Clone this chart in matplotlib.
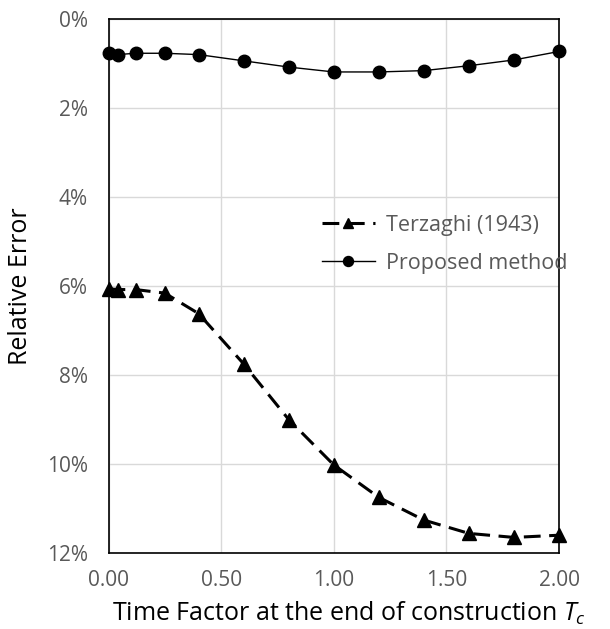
import matplotlib
matplotlib.use("Agg")
import matplotlib.pyplot as plt
from matplotlib.ticker import FuncFormatter

plt.rcParams['font.family'] = ['Open Sans', 'DejaVu Sans']
plt.rcParams['mathtext.fontset'] = 'custom'
plt.rcParams['mathtext.rm'] = 'Open Sans'
plt.rcParams['mathtext.it'] = 'Open Sans:italic'

tc = [0.0, 0.04, 0.12, 0.25, 0.40, 0.60, 0.80, 1.00, 1.20, 1.40, 1.60, 1.80, 2.00]
terzaghi = [6.06, 6.08, 6.08, 6.16, 6.62, 7.75, 9.00, 10.02, 10.75, 11.26, 11.56, 11.65, 11.60]
proposed = [0.77, 0.80, 0.77, 0.77, 0.80, 0.94, 1.08, 1.19, 1.19, 1.16, 1.05, 0.92, 0.73]
x_ticks = [0.0, 0.5, 1.0, 1.5, 2.0]
y_ticks = [0, 2, 4, 6, 8, 10, 12]

fig = plt.figure(figsize=(6.10, 6.29), dpi=100)
ax = fig.add_axes([108.5/610, 1 - 553/629, (559-108.5)/610, (553-19)/629])

ax.plot(tc, terzaghi, color='black', lw=2.2, ls=(0, (5.5, 2.8)), marker='^', ms=9.5,
        label='Terzaghi (1943)', clip_on=False, zorder=3)
ax.plot(tc, proposed, color='black', lw=1, ls='-', marker='o', ms=9,
        label='Proposed method', clip_on=False, zorder=3)

ax.set_xlim(0, 2)
ax.set_ylim(12, 0)
ax.set_xticks(x_ticks)
ax.set_yticks(y_ticks)
ax.xaxis.set_major_formatter(FuncFormatter(lambda v, p: f"{v:.2f}"))
ax.yaxis.set_major_formatter(FuncFormatter(lambda v, p: f"{int(v)}%"))
ax.grid(True, color='#d9d9d9', lw=1)
ax.set_axisbelow(True)
ax.tick_params(length=0, labelsize=15, labelcolor='#595959')
ax.tick_params(axis='x', pad=12)
ax.tick_params(axis='y', pad=15)
for s in ax.spines.values():
    s.set_color('black')
    s.set_linewidth(1.2)

ax.set_xlabel('Time Factor at the end of construction $T_c$', fontsize=18, color='black')
ax.set_ylabel('Relative Error', fontsize=18, color='black')
ax.xaxis.set_label_coords(0.533, -0.088)
ax.yaxis.set_label_coords(-0.168, 0.5)

leg = ax.legend(loc='upper left', bbox_to_anchor=(0.43, 0.67), frameon=False,
                fontsize=15.5, handlelength=2.5, handletextpad=0.5, labelspacing=0.8,
                markerscale=0.8, labelcolor='#595959')

fig.savefig('out.png', dpi=100)
